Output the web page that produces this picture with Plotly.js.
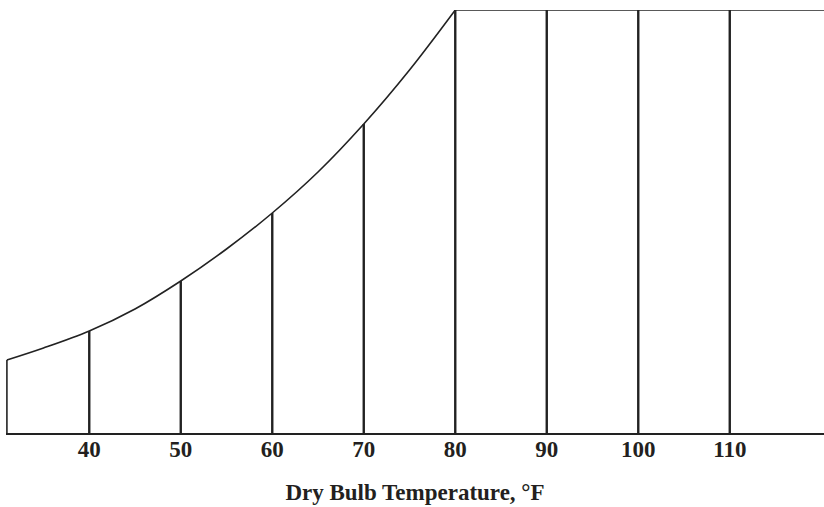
<!DOCTYPE html>
<html>
<head>
<meta charset="utf-8">
<script src="https://cdn.plot.ly/plotly-3.0.1.min.js"></script>
<style>html,body{margin:0;padding:0;background:#fff;}#chart{width:824px;height:507px;}</style>
</head>
<body>
<div id="chart"></div>
<script>
// Saturation curve (dry bulb °F vs. relative height, chart units)
const curveTemp = [31, 35, 40, 45, 50, 55, 60, 65, 70, 75, 80];
const curveHeight = [73, 85, 102, 124, 152, 184, 220, 261, 309, 363, 423];
// Flat top beyond 80 °F
const topTemp = [80, 120.3];
const topHeight = [423, 423];
// Vertical guide lines
const gridTemps = [40, 50, 60, 70, 80, 90, 100, 110];
const tickVals = [40, 50, 60, 70, 80, 90, 100, 110];
const tickText = ['40', '50', '60', '70', '80', '90', '100', '110'];

function heightAt(t) {
  if (t >= curveTemp[curveTemp.length - 1]) return topHeight[0];
  for (let i = 0; i < curveTemp.length - 1; i++) {
    if (t >= curveTemp[i] && t <= curveTemp[i + 1]) {
      const f = (t - curveTemp[i]) / (curveTemp[i + 1] - curveTemp[i]);
      return curveHeight[i] + f * (curveHeight[i + 1] - curveHeight[i]);
    }
  }
  return topHeight[0];
}

const vx = [], vy = [];
gridTemps.forEach(t => { vx.push(t, t, null); vy.push(0, heightAt(t), null); });

const ink = '#222222';
const serif = 'Liberation Serif, Times New Roman, serif';
const traces = [
  { x: curveTemp, y: curveHeight, mode: 'lines', line: { color: ink, width: 1.6, shape: 'spline', smoothing: 1 }, hoverinfo: 'skip', showlegend: false },
  { x: topTemp, y: topHeight, mode: 'lines', line: { color: ink, width: 1.6 }, hoverinfo: 'skip', showlegend: false },
  { x: [curveTemp[0], curveTemp[0]], y: [0, curveHeight[0]], mode: 'lines', line: { color: ink, width: 1.6 }, hoverinfo: 'skip', showlegend: false },
  { x: vx, y: vy, mode: 'lines', line: { color: ink, width: 2.4 }, hoverinfo: 'skip', showlegend: false, connectgaps: false }
];

const layout = {
  width: 824, height: 507,
  margin: { l: 6, r: 0, t: 10, b: 74 },
  paper_bgcolor: '#ffffff', plot_bgcolor: '#ffffff',
  showlegend: false,
  xaxis: {
    range: [30.9, 120.3], showgrid: false, zeroline: false,
    showline: true, linecolor: ink, linewidth: 1.6,
    tickvals: tickVals, ticktext: tickText,
    ticks: '', ticklen: 0, ticklabelstandoff: -5,
    tickfont: { family: serif, size: 23, color: '#231f20', weight: 'bold' },
    title: { text: 'Dry Bulb Temperature, °F', standoff: 22,
      font: { family: serif, size: 23, color: '#231f20', weight: 'bold' } }
  },
  yaxis: {
    range: [0, 423], visible: false, showgrid: false, zeroline: false
  }
};

Plotly.newPlot('chart', traces, layout, { displayModeBar: false, staticPlot: true });
</script>
</body>
</html>
